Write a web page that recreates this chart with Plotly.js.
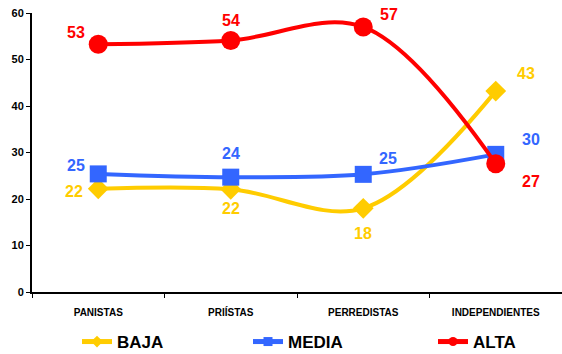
<!DOCTYPE html>
<html>
<head>
<meta charset="utf-8">
<script src="https://cdn.plot.ly/plotly-3.0.1.min.js"></script>
<style>html,body{margin:0;padding:0;background:#fff}#chart{width:562px;height:354px}</style>
</head>
<body>
<div id="chart"></div>
<script>
const categories = ["PANISTAS", "PRIÍSTAS", "PERREDISTAS", "INDEPENDIENTES"];
const seriesNames = ["BAJA", "MEDIA", "ALTA"];
const bajaValues = [22.2, 22.1, 18.0, 43.2];
const mediaValues = [25.4, 24.7, 25.3, 29.6];
const altaValues = [53.3, 54.1, 57.0, 27.6];
const bajaLabels = ["22", "22", "18", "43"];
const mediaLabels = ["25", "24", "25", "30"];
const altaLabels = ["53", "54", "57", "27"];
const yTicks = [0, 10, 20, 30, 40, 50, 60];

const colors = {BAJA: "#FFCC00", MEDIA: "#3366FF", ALTA: "#FF0000"};
const symbols = {BAJA: "diamond", MEDIA: "square", ALTA: "circle"};
const sizes = {BAJA: 16, MEDIA: 17, ALTA: 19};
const values = {BAJA: bajaValues, MEDIA: mediaValues, ALTA: altaValues};
const labels = {BAJA: bajaLabels, MEDIA: mediaLabels, ALTA: altaLabels};
const legendIds = {BAJA: "legend", MEDIA: "legend2", ALTA: "legend3"};
const legendX = {BAJA: 77, MEDIA: 248, ALTA: 433};
// label offsets in px [xshift, yshift]
const offsets = {
  BAJA: [[-24, -3], [0, -19], [0, -25], [30, 18]],
  MEDIA: [[-22, 8], [0, 24], [25, 16], [35, 15]],
  ALTA: [[-22, 12], [0, 20], [26, 12], [35, -18]]
};

const traces = seriesNames.map(name => ({
  type: "scatter",
  mode: "lines+markers",
  name: name,
  x: categories,
  y: values[name],
  showlegend: false,
  line: {color: colors[name], width: 4, shape: "spline", smoothing: 1},
  marker: {color: colors[name], symbol: symbols[name], size: sizes[name]},
  cliponaxis: false
}));
// legend-only entries with small markers
seriesNames.forEach(name => {
  traces.push({
    type: "scatter", mode: "lines+markers", name: name,
    x: [null], y: [null], showlegend: true, legend: legendIds[name],
    line: {color: colors[name], width: 5},
    marker: {color: colors[name], symbol: symbols[name], size: 9}
  });
});

const annotations = [];
seriesNames.forEach(name => {
  categories.forEach((c, i) => {
    annotations.push({
      x: c, y: values[name][i], xref: "x", yref: "y",
      text: labels[name][i], showarrow: false,
      xshift: offsets[name][i][0], yshift: offsets[name][i][1],
      font: {family: "Liberation Sans, Arial, sans-serif", size: 16, color: colors[name], weight: "bold"}
    });
  });
});

const layout = {
  width: 562, height: 354,
  margin: {l: 32, r: 0, t: 13, b: 62, autoexpand: false},
  paper_bgcolor: "#fff", plot_bgcolor: "#fff",
  font: {family: "Liberation Sans, Arial, sans-serif", color: "#000"},
  showlegend: true,
  xaxis: {
    type: "category", range: [-0.5, 3.5],
    showline: true, linecolor: "#000", linewidth: 2,
    ticks: "outside", tickson: "boundaries", ticklen: 4, tickcolor: "#000", tickwidth: 1,
    ticklabelstandoff: 10,
    tickfont: {size: 10, weight: "bold", color: "#000"},
    showgrid: false, zeroline: false, fixedrange: true
  },
  yaxis: {
    range: [0, 60], tickvals: yTicks, ticktext: yTicks.map(String),
    showline: true, linecolor: "#000", linewidth: 2,
    ticks: "outside", ticklen: 4, tickcolor: "#000", tickwidth: 1,
    tickfont: {size: 11, weight: "bold", color: "#000"},
    showgrid: false, zeroline: false, fixedrange: true
  },
  annotations: annotations
};
seriesNames.forEach(name => {
  layout[legendIds[name]] = {
    orientation: "h", xref: "container", yref: "container",
    x: legendX[name] / 562, xanchor: "left", y: 12 / 354, yanchor: "middle",
    font: {size: 17, weight: "bold", color: "#000"},
    bgcolor: "rgba(0,0,0,0)", borderwidth: 0
  };
});

Plotly.newPlot("chart", traces, layout, {displayModeBar: false, staticPlot: true});
</script>
</body>
</html>
